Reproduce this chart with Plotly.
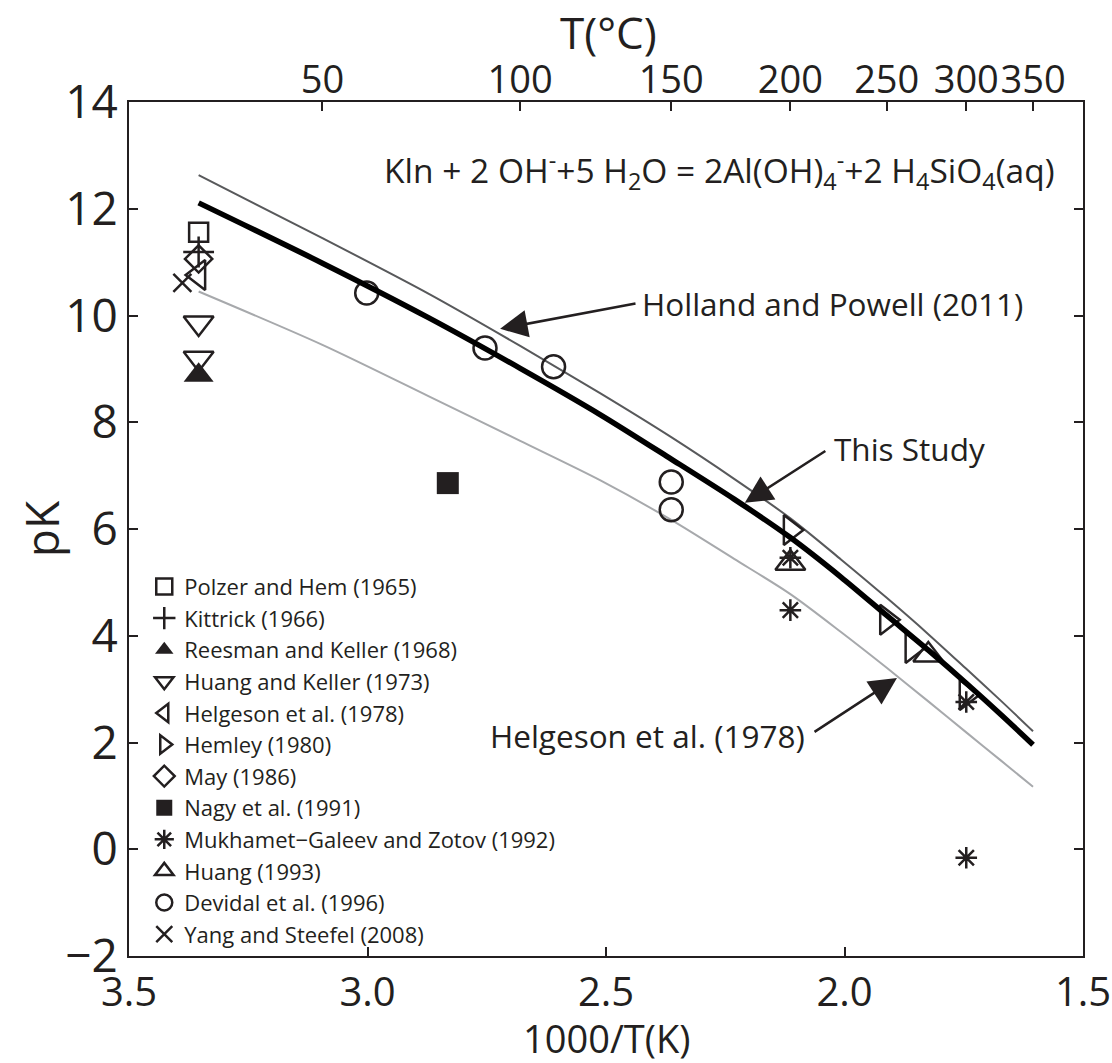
import plotly.graph_objects as go

INK = "#231f20"
FONT = "Open Sans"

# ---- curves: temperature (°C) and pK ----
curve_T = [25, 50, 75, 100, 125, 150, 175, 200, 225, 250, 275, 300, 325, 350]
this_study_pK = [12.11, 10.98, 9.96, 9.01, 8.14, 7.31, 6.56, 5.84, 5.10, 4.38, 3.73, 3.11, 2.52, 1.96]
holland_powell_pK = [12.63, 11.45, 10.41, 9.43, 8.54, 7.72, 6.94, 6.20, 5.43, 4.71, 4.03, 3.38, 2.78, 2.21]
helgeson_curve_pK = [10.45, 9.45, 8.49, 7.65, 6.91, 6.17, 5.44, 4.78, 4.07, 3.40, 2.77, 2.19, 1.66, 1.17]

# ---- experimental data: temperature (°C) and pK ----
polzer_T, polzer_pK = [25], [11.56]
kittrick_T, kittrick_pK = [25], [11.19]
reesman_T, reesman_pK = [25], [8.88]
huangkeller_T, huangkeller_pK = [25, 25], [9.86, 9.20]
helgeson_T, helgeson_pK = [25], [10.76]
hemley_T, hemley_pK = [200, 250, 265, 300], [5.98, 4.30, 3.77, 2.89]
may_T, may_pK = [25], [11.06]
nagy_T, nagy_pK = [80], [6.86]
mukhamet_T, mukhamet_pK = [200, 200, 300, 300], [5.46, 4.48, 2.76, -0.16]
huang_T, huang_pK = [200, 275], [5.36, 3.64]
devidal_T, devidal_pK = [60, 90, 110, 150, 150], [10.42, 9.39, 9.04, 6.88, 6.36]
yang_T, yang_pK = [22], [10.61]

# top axis tick temperatures
top_T = [50, 100, 150, 200, 250, 300, 350]
bottom_ticks = [3.5, 3.0, 2.5, 2.0, 1.5]


def inv(Tc):
    return [1000.0 / (t + 273.15) for t in Tc]


fig = go.Figure()

fig.add_trace(go.Scatter(x=inv(curve_T), y=helgeson_curve_pK, mode="lines",
                         line=dict(color="#a7a9ac", width=2, shape="spline", smoothing=0.8),
                         showlegend=False, hoverinfo="skip"))
fig.add_trace(go.Scatter(x=inv(curve_T), y=holland_powell_pK, mode="lines",
                         line=dict(color="#58595b", width=2, shape="spline", smoothing=0.8),
                         showlegend=False, hoverinfo="skip"))

series = [
    ("Polzer and Hem (1965)", polzer_T, polzer_pK, "square-open", 19),
    ("Kittrick (1966)", kittrick_T, kittrick_pK, "cross-thin-open", 22),
    ("Reesman and Keller (1968)", reesman_T, reesman_pK, "triangle-up", 26),
    ("Huang and Keller (1973)", huangkeller_T, huangkeller_pK, "triangle-down-open", 26),
    ("Helgeson et al. (1978)", helgeson_T, helgeson_pK, "triangle-left-open", 26),
    ("Hemley (1980)", hemley_T, hemley_pK, "triangle-right-open", 26),
    ("May (1986)", may_T, may_pK, "diamond-open", 21),
    ("Nagy et al. (1991)", nagy_T, nagy_pK, "square", 22),
    ("Mukhamet\u2212Galeev and Zotov (1992)", mukhamet_T, mukhamet_pK, "asterisk-open", 18),
    ("Huang (1993)", huang_T, huang_pK, "triangle-up-open", 26),
    ("Devidal et al. (1996)", devidal_T, devidal_pK, "circle-open", 23),
    ("Yang and Steefel (2008)", yang_T, yang_pK, "x-thin-open", 18),
]
for name, T, pk, sym, size in series:
    filled = sym in ("triangle-up", "square")
    fig.add_trace(go.Scatter(
        x=inv(T), y=pk, mode="markers", name=name,
        marker=dict(symbol=sym, size=size, color=INK,
                    line=dict(color=INK, width=0 if filled else 2.5)),
    ))

# "This Study" curve drawn against the top (°C) axis, which shares the same 1000/T range
fig.add_trace(go.Scatter(x=inv(curve_T), y=this_study_pK, mode="lines", xaxis="x2", yaxis="y",
                         line=dict(color="#000000", width=5.5, shape="spline", smoothing=0.8),
                         showlegend=False, hoverinfo="skip"))

ann = []
# equation
ann.append(dict(x=1.555, y=12.72, xref="x", yref="y", xanchor="right", yanchor="middle",
                text="Kln + 2 OH<sup>-</sup>+5 H<sub>2</sub>O = 2Al(OH)<sub>4</sub><sup>-</sup>+2 H<sub>4</sub>SiO<sub>4</sub>(aq)",
                showarrow=False, font=dict(size=33.5, color=INK, family=FONT)))
# curve labels
ann.append(dict(x=2.429, y=10.23, xref="x", yref="y", xanchor="left", yanchor="middle",
                text="Holland and Powell (2011)", showarrow=False,
                font=dict(size=31.5, color=INK, family=FONT)))
ann.append(dict(x=2.026, y=7.50, xref="x", yref="y", xanchor="left", yanchor="middle",
                text="This Study", showarrow=False, font=dict(size=31.5, color=INK, family=FONT)))
ann.append(dict(x=2.079, y=2.14, xref="x", yref="y", xanchor="right", yanchor="middle",
                text="Helgeson et al. (1978)", showarrow=False,
                font=dict(size=31.5, color=INK, family=FONT)))
# arrows (tip at x,y ; tail at ax,ay)
arrows = [(2.722, 9.75, 2.435, 10.23), (2.209, 6.49, 2.037, 7.48), (1.890, 3.21, 2.066, 2.18)]
for tx, ty, sx, sy in arrows:
    ann.append(dict(x=tx, y=ty, ax=sx, ay=sy, xref="x", yref="y", axref="x", ayref="y",
                    text="", showarrow=True, arrowhead=2, arrowsize=2.2, arrowwidth=2.5,
                    arrowcolor=INK, standoff=0))
# axis titles
ann.append(dict(x=-0.092, y=0.5, xref="paper", yref="paper", text="pK", textangle=-90,
                xanchor="center", yanchor="middle",
                showarrow=False, font=dict(size=46, color=INK, family=FONT)))
ann.append(dict(x=0.5, y=-0.0955, xref="paper", yref="paper", text="1000/T(K)",
                xanchor="center", yanchor="middle",
                showarrow=False, font=dict(size=38, color=INK, family=FONT)))
ann.append(dict(x=0.503, y=1.082, xref="paper", yref="paper", text="T(°C)",
                xanchor="center", yanchor="middle",
                showarrow=False, font=dict(size=44, color=INK, family=FONT)))

axis_common = dict(showgrid=False, zeroline=False, ticks="inside", ticklen=9, tickwidth=2,
                   tickcolor=INK, linecolor=INK, linewidth=2, showline=True, automargin=False)

fig.update_layout(
    width=1112, height=1063,
    margin=dict(l=129, r=29, t=102, b=107, autoexpand=False),
    paper_bgcolor="white", plot_bgcolor="white",
    font=dict(family=FONT, color=INK),
    xaxis=dict(range=[3.5, 1.5], tickvals=bottom_ticks,
               ticktext=[f"{v:.1f}" for v in bottom_ticks], mirror=True,
               ticklabeloverflow="allow", tickangle=0,
               tickfont=dict(size=40, color=INK, family=FONT), **axis_common),
    xaxis2=dict(range=[3.5, 1.5], overlaying="x", side="top", anchor="y",
                tickvals=inv(top_T), ticktext=[str(t) for t in top_T],
                showgrid=False, zeroline=False, ticks="inside", ticklen=9, tickwidth=2,
                tickcolor=INK, showline=False, ticklabeloverflow="allow", tickangle=0,
                automargin=False,
                tickfont=dict(size=38, color=INK, family=FONT)),
    yaxis=dict(range=[-2, 14], dtick=2, mirror="ticks",
               tickfont=dict(size=46, color=INK, family=FONT), **axis_common),
    legend=dict(x=0.016, y=0.457, xanchor="left", yanchor="top",
                bgcolor="rgba(0,0,0,0)", font=dict(size=22, color=INK, family=FONT),
                itemwidth=30, tracegroupgap=0),
    annotations=ann,
    showlegend=True,
)

fig.write_html("out.html")
